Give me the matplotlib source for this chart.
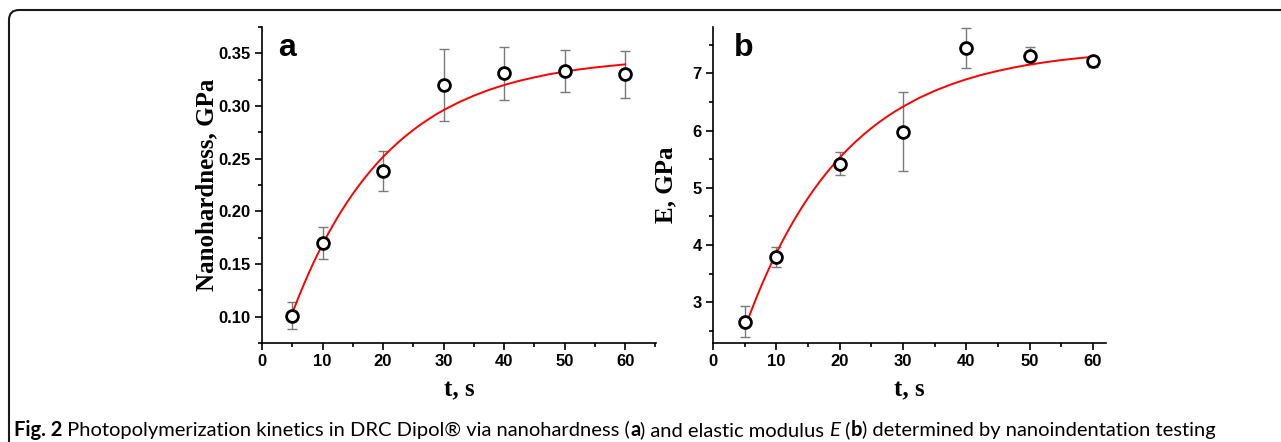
import numpy as np
import matplotlib
matplotlib.use("Agg")
import matplotlib.pyplot as plt
from matplotlib.patches import FancyBboxPatch
from matplotlib.transforms import IdentityTransform
from matplotlib.ticker import MultipleLocator, FormatStrFormatter
from matplotlib.font_manager import FontProperties

# measured points (time, s)
t = [5, 10, 20, 30, 40, 50, 60]
hardness = [0.101, 0.170, 0.238, 0.320, 0.331, 0.333, 0.330]
hardness_err = [0.013, 0.015, 0.019, 0.034, 0.025, 0.020, 0.022]
modulus = [2.66, 3.80, 5.42, 5.98, 7.45, 7.31, 7.21]
modulus_err = [0.27, 0.175, 0.20, 0.69, 0.35, 0.145, 0.10]

# fitted curves
t_fit = [5, 5.5, 6, 6.5, 7, 7.5, 8, 8.5, 9, 9.5, 10, 11, 12, 13, 14, 15,
         16, 17, 18, 19, 20, 21.25, 22.5, 23.75, 25, 26.25, 27.5, 28.75,
         30, 32.5, 35, 37.5, 40, 42.5, 45, 47.5, 50, 52.5, 55, 57.5, 60]
hardness_fit = [0.1031, 0.1106, 0.1179, 0.1249, 0.1318, 0.1384, 0.1448,
                0.1511, 0.1571, 0.1629, 0.1686, 0.1795, 0.1896, 0.1992,
                0.2081, 0.2166, 0.2245, 0.2319, 0.2389, 0.2455, 0.2517,
                0.2588, 0.2655, 0.2716, 0.2773, 0.2826, 0.2874, 0.2920,
                0.2961, 0.3035, 0.3098, 0.3153, 0.3199, 0.3239, 0.3272,
                0.3302, 0.3326, 0.3348, 0.3366, 0.3381, 0.3395]
modulus_fit = [2.545, 2.696, 2.842, 2.983, 3.121, 3.254, 3.383, 3.508,
               3.629, 3.747, 3.860, 4.078, 4.282, 4.474, 4.654, 4.823,
               4.982, 5.131, 5.272, 5.403, 5.527, 5.671, 5.805, 5.928,
               6.043, 6.149, 6.246, 6.336, 6.419, 6.568, 6.695, 6.804,
               6.897, 6.977, 7.044, 7.103, 7.153, 7.195, 7.232, 7.263,
               7.290]

W, H = 1281, 442
fig = plt.figure(figsize=(W / 100, H / 100), dpi=100)

tick_fp = FontProperties(family="Liberation Sans", weight="bold", size=12)
label_font = dict(family="Liberation Serif", weight="bold", size=18)


def panel(rect, y, yerr, yfit, xmax, ylim, ymajor, yminor, ylabel, ylab_x,
          letter, letter_x):
    ax = fig.add_axes(rect)
    ax.errorbar(t, y, yerr=yerr, fmt="none", ecolor="#7a7a7a",
                elinewidth=1.0, capsize=3.5, capthick=1.0, zorder=2)
    ax.plot(t_fit, yfit, color="#ff0000", lw=1.4, zorder=3)
    ax.plot(t, y, "o", ms=8.5, mfc="white", mec="black", mew=2.0, zorder=4)
    ax.set_xlim(0, xmax)
    ax.set_ylim(*ylim)
    ax.xaxis.set_major_locator(MultipleLocator(10))
    ax.xaxis.set_minor_locator(MultipleLocator(5))
    ax.yaxis.set_major_locator(MultipleLocator(ymajor))
    ax.yaxis.set_minor_locator(MultipleLocator(yminor))
    ax.spines["top"].set_visible(False)
    ax.spines["right"].set_visible(False)
    for s in ("left", "bottom"):
        ax.spines[s].set_linewidth(1.2)
    ax.tick_params(which="major", direction="out", length=5, width=1.2, pad=3)
    ax.tick_params(which="minor", direction="out", length=3, width=1.2)
    ax.set_xlabel("t, s", fontdict=label_font)
    ax.xaxis.set_label_coords(0.5, -0.113)
    ax.set_ylabel(ylabel, fontdict=label_font)
    ax.yaxis.set_label_coords(ylab_x, 0.5)
    ax.text(letter_x, 0.907, letter, transform=ax.transAxes, ha="left",
            va="baseline", family="Liberation Sans", weight="bold", size=23)
    return ax


bot, top = 1 - 343 / H, 1 - 27 / H
ax_a = panel([262 / W, bot, (656 - 262) / W, top - bot], hardness,
             hardness_err, hardness_fit, 65.1, (0.075, 0.375), 0.05, 0.025,
             "Nanohardness, GPa", -0.112, "a", 0.04)
ax_a.yaxis.set_major_formatter(FormatStrFormatter("%.2f"))
ax_b = panel([713 / W, bot, (1106 - 713) / W, top - bot], modulus,
             modulus_err, modulus_fit, 62.05, (2.29, 7.81), 1, 0.5,
             "E, GPa", -0.092, "b", 0.053)
for ax in (ax_a, ax_b):
    for lab in ax.get_xticklabels() + ax.get_yticklabels():
        lab.set_fontproperties(tick_fp)

# rounded frame round the whole figure, running off the right and bottom
frame = FancyBboxPatch((9, -60), 1400, H - 10 + 60,
                       boxstyle="round,pad=0,rounding_size=10",
                       fc="none", ec="#1a1a1a", lw=1.5,
                       transform=IdentityTransform())
fig.add_artist(frame)

# caption built from bold / normal / italic pieces
pieces = [("Fig. 2", "bold", "normal"),
          (" Photopolymerization kinetics in DRC Dipol® via nanohardness (", "normal", "normal"),
          ("a", "bold", "normal"),
          (") and elastic modulus ", "normal", "normal"),
          ("E", "normal", "italic"),
          (" (", "normal", "normal"),
          ("b", "bold", "normal"),
          (") determined by nanoindentation testing", "normal", "normal")]

renderer = fig.canvas.get_renderer()


def draw_caption(size):
    x = 14
    arts = []
    for txt, wt, st in pieces:
        a = fig.text(x / W, 1 - 436 / H, txt, family="Lato", weight=wt,
                     style=st, size=size, va="baseline", ha="left")
        bb = a.get_window_extent(renderer)
        x += bb.width
        arts.append(a)
    return arts, x


arts, xend = draw_caption(12)
scale = (1210 - 14) / (xend - 14)
for a in arts:
    a.remove()
draw_caption(12 * scale)

fig.savefig("out.png", dpi=100)
